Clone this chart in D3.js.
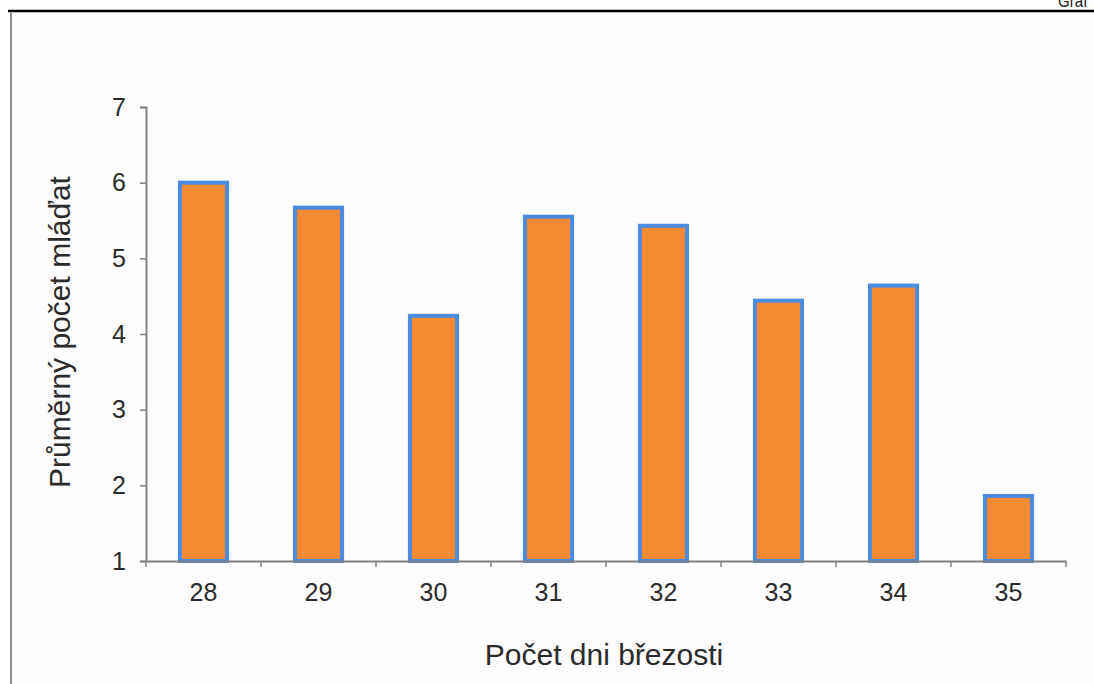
<!DOCTYPE html>
<html>
<head>
<meta charset="utf-8">
<script src="https://cdn.jsdelivr.net/npm/d3@7"></script>
<style>
  html, body { margin: 0; padding: 0; background: #ffffff; }
  svg { display: block; font-family: "Liberation Sans", Arial, sans-serif; }
</style>
</head>
<body>
<svg id="chart" width="1094" height="684"></svg>
<script>
// Gestation length (days) and mean litter size
const days = ["28", "29", "30", "31", "32", "33", "34", "35"];
const meanPups = [6.0, 5.67, 4.24, 5.55, 5.43, 4.44, 4.64, 1.86];
const yTicks = [1, 2, 3, 4, 5, 6, 7];

const svg = d3.select("#chart");
const W = 1094, H = 684;
const FONT = "Liberation Sans, Arial, sans-serif";

// page frame: heading rule, page heading and left border
svg.append("rect").attr("x", 11).attr("y", 12).attr("width", W - 11).attr("height", H - 12).attr("fill", "#fdfdfd");
svg.append("text").attr("x", 1058).attr("y", 7).attr("font-size", 18).attr("fill", "#222")
  .attr("textLength", 42).attr("lengthAdjust", "spacingAndGlyphs").text("Graf 7");
svg.append("line").attr("x1", 8).attr("x2", W).attr("y1", 11).attr("y2", 11)
  .attr("stroke", "#000").attr("stroke-width", 2.5);
svg.append("line").attr("x1", 11).attr("x2", 11).attr("y1", 13).attr("y2", H)
  .attr("stroke", "#8a8a8a").attr("stroke-width", 2);

const plotLeft = 146, plotRight = 1066, plotTop = 107, plotBottom = 561;

const x = d3.scaleBand().domain(days).range([plotLeft, plotRight])
  .paddingInner(0.59).paddingOuter(0.295);
const y = d3.scaleLinear().domain([1, 7]).range([plotBottom, plotTop]);

// bars
svg.append("g").selectAll("rect").data(days).join("rect")
  .attr("x", d => x(d))
  .attr("width", x.bandwidth())
  .attr("y", (d, i) => y(meanPups[i]))
  .attr("height", (d, i) => y(1) - y(meanPups[i]))
  .attr("fill", "#f68b33")
  .attr("stroke", "#4b8be0")
  .attr("stroke-width", 4);

// y axis
const yAxis = svg.append("g").attr("transform", `translate(${plotLeft},0)`)
  .call(d3.axisLeft(y).tickValues(yTicks).tickFormat(d3.format("d")).tickSize(6).tickPadding(14));
yAxis.select(".domain").attr("stroke", "#808080").attr("stroke-width", 2);
yAxis.selectAll(".tick line").attr("stroke", "#808080").attr("stroke-width", 1.5);
yAxis.selectAll(".tick text").attr("font-size", 25).attr("fill", "#2b2b2b").attr("font-family", FONT);

// x axis: ticks at category boundaries
const step = x.step();
const xAxis = svg.append("g").attr("transform", `translate(0,${plotBottom})`)
  .call(d3.axisBottom(x).tickSize(0).tickPadding(22));
xAxis.select(".domain").attr("stroke", "#808080").attr("stroke-width", 2);
xAxis.selectAll(".tick text").attr("font-size", 25).attr("fill", "#2b2b2b").attr("font-family", FONT);
xAxis.selectAll(".boundary").data(d3.range(days.length + 1)).join("line")
  .attr("class", "boundary")
  .attr("x1", i => plotLeft + i * step).attr("x2", i => plotLeft + i * step)
  .attr("y1", 0).attr("y2", 6)
  .attr("stroke", "#808080").attr("stroke-width", 1.5);

// axis titles
svg.append("text")
  .attr("transform", "translate(70,332) rotate(-90)")
  .attr("text-anchor", "middle").attr("font-size", 30).attr("fill", "#2b2b2b")
  .text("Průměrný počet mláďat");
svg.append("text")
  .attr("x", 604).attr("y", 665)
  .attr("text-anchor", "middle").attr("font-size", 30).attr("fill", "#2b2b2b")
  .text("Počet dni březosti");
</script>
</body>
</html>
